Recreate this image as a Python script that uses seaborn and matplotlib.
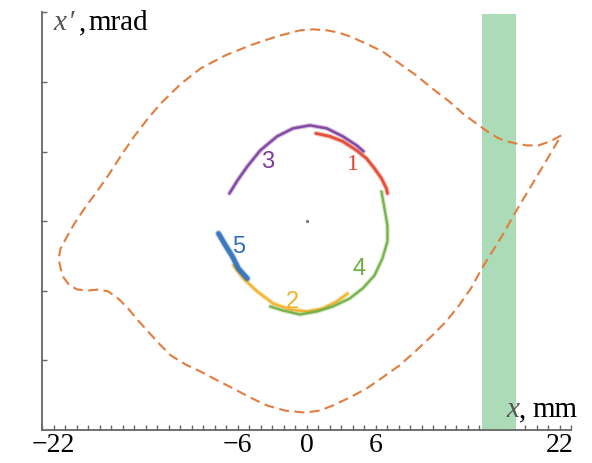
import matplotlib
matplotlib.use("Agg")
import matplotlib.pyplot as plt
import pandas as pd
import seaborn as sns

# Separatrix (dashed boundary of the stable region): x in mm, x' in axis units
sep_x = [22.15, 21.20, 20.16, 19.13, 18.18, 17.40, 16.71, 15.84, 14.98, 13.68,
         12.39, 10.92, 9.53, 8.06, 6.59, 5.13, 3.74, 2.71, 1.75, 0.54,
         -0.58, -2.57, -4.90, -7.06, -9.22, -10.95, -12.68, -13.80, -15.01, -16.14,
         -17.26, -18.30, -19.33, -20.20, -20.89, -21.41, -21.58, -21.41, -21.15, -20.63,
         -19.94, -18.99, -18.12, -17.26, -16.40, -15.53, -14.67, -13.80, -12.85, -11.81,
         -10.52, -9.22, -7.75, -6.37, -4.90, -3.43, -1.88, -0.15, 1.15, 2.27,
         3.74, 5.21, 6.59, 8.06, 9.53, 10.92, 12.13, 13.25, 14.29, 15.24,
         16.10, 16.97, 18.26, 19.56, 20.86, 22.15]
sep_y = [1.232, 1.146, 1.088, 1.088, 1.117, 1.146, 1.189, 1.275, 1.376, 1.534,
         1.721, 1.907, 2.094, 2.267, 2.439, 2.554, 2.655, 2.712, 2.741, 2.755,
         2.741, 2.655, 2.526, 2.382, 2.195, 1.972, 1.692, 1.476, 1.217, 0.944,
         0.657, 0.413, 0.183, -0.033, -0.234, -0.392, -0.536, -0.680, -0.809, -0.924,
         -0.982, -0.996, -0.982, -1.010, -1.111, -1.255, -1.427, -1.585, -1.758, -1.930,
         -2.060, -2.160, -2.290, -2.405, -2.534, -2.649, -2.721, -2.750, -2.721, -2.649,
         -2.534, -2.405, -2.247, -2.074, -1.859, -1.643, -1.442, -1.212, -0.967, -0.680,
         -0.450, -0.220, 0.154, 0.513, 0.872, 1.232]

# Septum region
septum_x = [15.26, 18.20]
septum_top = 2.975

# Beam turns in phase space, labelled 1..5
arc_labels = ["1", "2", "3", "4", "5"]
arc_x = {
    "1": [0.80, 2.01, 3.14, 4.35, 5.21, 5.90, 6.51, 6.94, 7.03],
    "2": [-6.37, -5.51, -4.30, -2.91, -1.44, 0.03, 1.41, 2.62, 3.57],
    "3": [-6.72, -6.02, -5.16, -4.04, -2.57, -1.18, 0.29, 1.75, 3.14, 4.35, 4.95],
    "4": [6.51, 6.77, 7.03, 7.03, 6.59, 5.90, 4.87, 3.74, 2.27, 0.89, -0.58, -2.05, -3.17],
    "5": [-7.67, -7.06, -6.46, -5.94, -5.16],
}
arc_y = {
    "1": [1.261, 1.218, 1.146, 1.016, 0.901, 0.758, 0.614, 0.470, 0.398],
    "2": [-0.637, -0.824, -1.010, -1.183, -1.269, -1.298, -1.255, -1.154, -1.039],
    "3": [0.398, 0.585, 0.786, 1.016, 1.218, 1.333, 1.376, 1.333, 1.218, 1.088, 1.002],
    "4": [0.427, 0.183, -0.062, -0.292, -0.536, -0.781, -0.967, -1.111, -1.226, -1.298,
          -1.341, -1.284, -1.226],
    "5": [-0.177, -0.349, -0.507, -0.680, -0.824],
}
arc_colors = {"1": "#E2432C", "2": "#F2B125", "3": "#7D3C9E", "4": "#6DAE3F", "5": "#2F6FBA"}
arc_widths = {"1": 2.0, "2": 1.8, "3": 1.8, "4": 1.6, "5": 3.4}
label_pos = {"1": (4.0, 0.83), "2": (-1.25, -1.14), "3": (-3.4, 0.87),
             "4": (4.55, -0.67), "5": (-5.9, -0.36)}
label_family = {"1": "Liberation Serif", "2": "Liberation Sans", "3": "Liberation Sans",
                "4": "Liberation Sans", "5": "Liberation Sans"}

center = (0.0, 0.0)

x_major = [-22, -6, 0, 6, 22]
x_major_labels = ["\u221222", "\u22126", "0", "6", "22"]
x_minor = list(range(-23, 24))
y_ticks = [-2, -1, 0, 1, 2, 3]

sns.set_style("ticks")
plt.rcParams["font.family"] = ["Liberation Serif", "DejaVu Serif"]

W, H = 592, 464
fig = plt.figure(figsize=(W / 100, H / 100), dpi=100)
ax = fig.add_axes([42.3 / W, (H - 431) / H, (571 - 42.3) / W, (431 - 13.3) / H])

# septum band
ax.fill_betweenx([-3, septum_top], septum_x[0], septum_x[1], color="#ABDBB7",
                 linewidth=0, zorder=1)

sep_df = pd.DataFrame({"x": sep_x, "y": sep_y})
sns.lineplot(data=sep_df, x="x", y="y", sort=False, estimator=None, ax=ax,
             color="#E27D3E", linewidth=1.5, zorder=3)
ax.lines[-1].set_linestyle((0, (4.8, 2.6)))

for key in arc_labels:
    df = pd.DataFrame({"x": arc_x[key], "y": arc_y[key]})
    # faint halo for the spread of particles, then the dense core
    sns.lineplot(data=df, x="x", y="y", sort=False, estimator=None, ax=ax,
                 color=arc_colors[key], linewidth=arc_widths[key] + 1.6, alpha=0.3,
                 zorder=4)
    ax.lines[-1].set_solid_capstyle("round")
    sns.lineplot(data=df, x="x", y="y", sort=False, estimator=None, ax=ax,
                 color=arc_colors[key], linewidth=arc_widths[key], alpha=0.9,
                 zorder=4)
    ax.lines[-1].set_solid_capstyle("round")
    ax.lines[-1].set_solid_joinstyle("round")
    lx, ly = label_pos[key]
    ax.text(lx, ly, key, color=arc_colors[key], fontsize=17,
            family=label_family[key], ha="center", va="center", zorder=5)

sns.scatterplot(x=[center[0]], y=[center[1]], ax=ax, color="#808080", s=6,
                linewidth=0, zorder=5)

ax.set_xlim(-23, 23)
ax.set_ylim(-3, 3)
ax.set_xticks(x_major)
ax.set_xticklabels(x_major_labels)
ax.set_xticks(x_minor, minor=True)
ax.set_yticks(y_ticks)
ax.set_yticklabels([])
ax.tick_params(axis="both", which="both", direction="in", length=3.6, width=1.0,
               color="#666666")
ax.tick_params(axis="x", which="major", labelsize=20, pad=1.5, labelcolor="black")
ax.set_xlabel("")
ax.set_ylabel("")
for side in ["top", "right"]:
    ax.spines[side].set_visible(False)
for side in ["left", "bottom"]:
    ax.spines[side].set_color("#666666")
    ax.spines[side].set_linewidth(1.3)

# axis titles drawn at fixed figure positions
def fig_text(px, py, s, **kw):
    fig.text(px / W, (H - py) / H, s, fontsize=21, va="baseline", ha="left", **kw)

fig_text(53, 30, "x", style="italic", color="#555555")
fig_text(68, 30, "\u2032", style="italic", color="#555555")
fig_text(79, 30, ",", color="black")
fig_text(88, 30, "mrad", color="black")
fig_text(506, 417, "x", style="italic", color="#555555")
fig_text(519, 417, ",", color="black")
fig_text(532, 417, "mm", color="black")

fig.savefig("out.png", dpi=100)
